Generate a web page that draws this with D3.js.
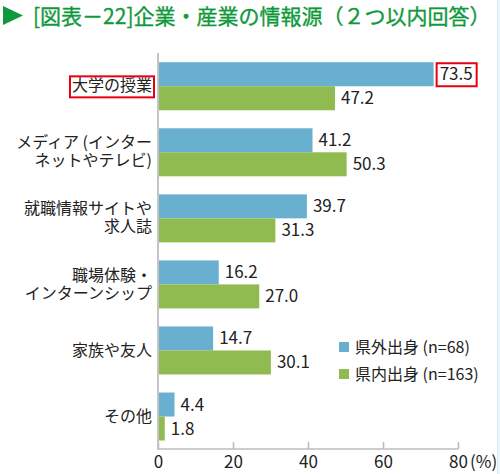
<!DOCTYPE html>
<html lang="ja">
<head>
<meta charset="utf-8">
<script src="https://cdn.jsdelivr.net/npm/d3@7"></script>
<style>
  html, body { margin: 0; padding: 0; background: #fff; }
  svg { display: block; font-family: "Noto Sans CJK JP", "Noto Sans", sans-serif; }
  .cat { font-size: 16px; fill: #222; }
  .val { font-size: 17px; fill: #222; }
  .axis text { font-size: 17px; fill: #222; font-family: "Noto Sans CJK JP", "Noto Sans", sans-serif; }
  .axis path, .axis line { stroke: #bdbdbd; stroke-width: 1.6; }
  .legend text { font-size: 16px; fill: #222; }
</style>
</head>
<body>
<script>
// 項目ラベル（改行位置ごと）
const categories = [
  ['大学の授業'],
  ['メディア (インター', 'ネットやテレビ)'],
  ['就職情報サイトや', '求人誌'],
  ['職場体験・', 'インターンシップ'],
  ['家族や友人'],
  ['その他']
];
const outside = [73.5, 41.2, 39.7, 16.2, 14.7, 4.4];   // 県外出身
const inside  = [47.2, 50.3, 31.3, 27.0, 30.1, 1.8];   // 県内出身
const seriesNames = ['県外出身 (n=68)', '県内出身 (n=163)'];
const xTicks = [0, 20, 40, 60, 80];
const highlightCat = 0;        // 赤枠で囲む項目
const highlightSeries = 0;     // 赤枠で囲む数値の系列

const W = 500, H = 474;
const COLORS = ['#69afcf', '#8fbb50'];
const BAR_H = 24;

const svg = d3.select('body').append('svg').attr('width', W).attr('height', H);

// 右端の薄い帯
svg.append('rect').attr('x', 497).attr('y', 0).attr('width', 3).attr('height', H).attr('fill', '#eaf4fb');
svg.append('line').attr('x1', 497.5).attr('x2', 497.5).attr('y1', 0).attr('y2', H)
  .attr('stroke', '#d8eaf5');

// タイトル
svg.append('path').attr('d', 'M3,6 L23,15.5 L3,25 Z').attr('fill', '#10993c');
svg.append('text').attr('x', 33).attr('y', 24)
  .attr('font-size', 21).attr('fill', '#10993c')
  .attr('stroke', '#10993c').attr('stroke-width', 0.35)
  .text('[図表－22]企業・産業の情報源（２つ以内回答）');

const x = d3.scaleLinear().domain([0, 80]).range([158, 458]);
const y = d3.scaleBand().domain(d3.range(categories.length))
  .range([53, 450]).paddingInner(0.27).paddingOuter(0.14);

const series = [outside, inside];
const fmt = d3.format('.1f');

// 棒と数値
series.forEach((vals, s) => {
  svg.append('g').selectAll('rect').data(vals).join('rect')
    .attr('x', x(0))
    .attr('y', (d, i) => y(i) + s * BAR_H)
    .attr('width', d => x(d) - x(0))
    .attr('height', BAR_H)
    .attr('fill', COLORS[s]);

  svg.append('g').selectAll('text').data(vals).join('text')
    .attr('class', 'val')
    .attr('x', d => x(d) + 6)
    .attr('y', (d, i) => y(i) + s * BAR_H + BAR_H / 2 + 6)
    .text(d => fmt(d));
});

// 数値の赤枠
const hv = series[highlightSeries][highlightCat];
const hvText = svg.selectAll('text.val').filter(function () {
  return this.textContent === fmt(hv) && +this.getAttribute('x') === x(hv) + 6;
}).node();
if (hvText) {
  const w = hvText.getComputedTextLength();
  const x0 = x(hv) + 6;
  svg.append('rect')
    .attr('x', x0 - 3).attr('y', y(highlightCat) + highlightSeries * BAR_H + 1)
    .attr('width', w + 7).attr('height', BAR_H - 1)
    .attr('fill', 'none').attr('stroke', '#e60012').attr('stroke-width', 2);
}

// 項目ラベル
const LINE_H = 18;
const cats = svg.append('g').selectAll('text').data(categories).join('text')
  .attr('class', 'cat')
  .attr('text-anchor', 'end')
  .each(function (lines, i) {
    const cy = y(i) + y.bandwidth() / 2;
    const first = cy - (lines.length - 1) * LINE_H / 2 + 5;
    d3.select(this).selectAll('tspan').data(lines).join('tspan')
      .attr('x', 152)
      .attr('y', (d, k) => first + k * LINE_H)
      .text(d => d);
  });

// 項目の赤枠
const hc = cats.filter((d, i) => i === highlightCat).node();
if (hc) {
  const w = hc.getComputedTextLength();
  svg.append('rect')
    .attr('x', 152 - w - 2).attr('y', y(highlightCat) + y.bandwidth() / 2 - 10)
    .attr('width', w + 4).attr('height', 21)
    .attr('fill', 'none').attr('stroke', '#e60012').attr('stroke-width', 2);
}

// 軸
const axis = svg.append('g').attr('class', 'axis')
  .attr('transform', 'translate(0,449)')
  .call(d3.axisBottom(x).tickValues(xTicks).tickSizeInner(-7).tickSizeOuter(0).tickPadding(7));
axis.select('.domain').attr('d', `M${x(0)},0H${x(80)}`);
axis.append('text').attr('x', x(80) + 12).attr('y', 7).attr('dy', '0.71em')
  .attr('text-anchor', 'start').attr('font-size', 16).text('(%)');

svg.append('line')
  .attr('x1', x(0)).attr('x2', x(0)).attr('y1', 53).attr('y2', 450)
  .attr('stroke', '#c4c4c4').attr('stroke-width', 2);

// 凡例
const lg = svg.append('g').attr('class', 'legend');
seriesNames.forEach((n, s) => {
  const g = lg.append('g').attr('transform', `translate(339,${342 + s * 27})`);
  g.append('rect').attr('width', 10).attr('height', 10).attr('fill', COLORS[s]);
  g.append('text').attr('x', 16).attr('y', 11).text(n);
});
</script>
</body>
</html>
